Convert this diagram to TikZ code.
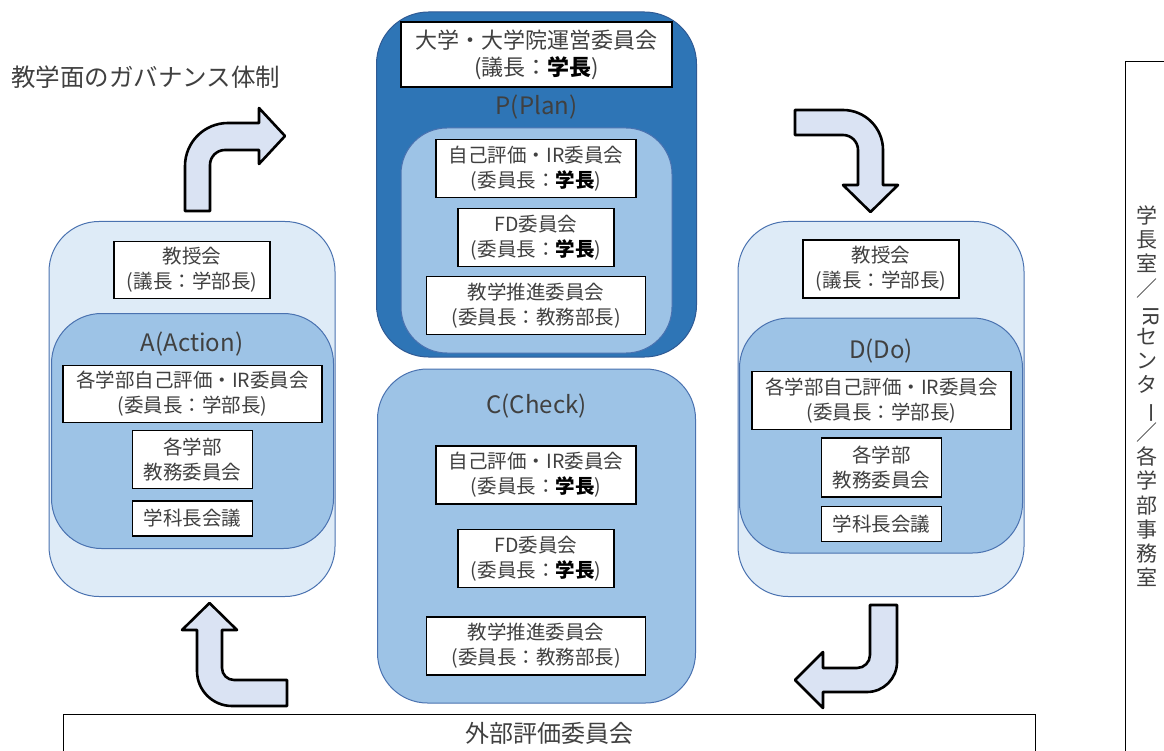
\documentclass[tikz,border=0pt]{standalone}
\usepackage{fontspec}
\setmainfont{Noto Sans CJK JP}
\definecolor{tgray}{HTML}{404040}
\definecolor{pdark}{HTML}{2E75B6}
\definecolor{pborder}{HTML}{2F5A94}
\definecolor{lblue}{HTML}{9DC3E6}
\definecolor{vlblue}{HTML}{DEEBF7}
\definecolor{bborder}{HTML}{4A72B0}
\definecolor{arrfill}{HTML}{DAE3F3}
\newcommand{\bk}[1]{\textbf{\color{black}#1}}
\tikzset{
  wbox/.style={draw=black, fill=white, line width=1.1pt, align=center, text=tgray,
    inner sep=0pt, font=\fontsize{19.5}{25}\selectfont},
  container/.style={draw=bborder, line width=1pt, inner sep=0pt},
  lbl/.style={text=tgray, inner sep=0pt, font=\fontsize{24}{28}\selectfont},
  blockarrow/.style={draw=black, fill=arrfill, line width=2.6pt, line join=round},
  vchar/.style={text=tgray, inner sep=0pt, font=\fontsize{21}{24}\selectfont,
    text height=0.88em, text depth=0.12em},
}
\begin{document}
\begin{tikzpicture}[x=1pt,y=-1pt]
\useasboundingbox (0,0) rectangle (1164,751);
\clip (0,0) rectangle (1164,751);

% title
\node[anchor=west, text=tgray, inner sep=0pt, font=\fontsize{24.5}{28}\selectfont] (title) at (11,77) {教学面のガバナンス体制};

% ---------- P ----------
\node[container, draw=pborder, fill=pdark, rounded corners=52pt, minimum width=320pt, minimum height=345pt] (Pout) at (536.5,184.5) {};
\node[wbox, minimum width=271pt, minimum height=65pt, font=\fontsize{22}{27}\selectfont] (Ptop) at (536.5,54.5) {大学・大学院運営委員会\\(議長：\bk{学長})};
\node[lbl] (Plbl) at (536.5,107) {P(Plan)};
\node[container, fill=lblue, rounded corners=46pt, minimum width=271pt, minimum height=225pt] (Pin) at (536.5,240.5) {};
\node[wbox, minimum width=200pt, minimum height=58pt] (P1) at (536,168.5) {自己評価・IR委員会\\(委員長：\bk{学長})};
\node[wbox, minimum width=156pt, minimum height=58pt] (P2) at (536,237.5) {FD委員会\\(委員長：\bk{学長})};
\node[wbox, minimum width=219pt, minimum height=58pt] (P3) at (536,305.5) {教学推進委員会\\(委員長：教務部長)};

% ---------- C ----------
\node[container, fill=lblue, rounded corners=50pt, minimum width=318pt, minimum height=334pt] (Cout) at (536.5,536) {};
\node[lbl] (Clbl) at (536.5,406) {C(Check)};
\node[wbox, minimum width=200pt, minimum height=58pt] (C1) at (536,475) {自己評価・IR委員会\\(委員長：\bk{学長})};
\node[wbox, minimum width=156pt, minimum height=58pt] (C2) at (536,558.5) {FD委員会\\(委員長：\bk{学長})};
\node[wbox, minimum width=219pt, minimum height=58pt] (C3) at (536,646) {教学推進委員会\\(委員長：教務部長)};

% ---------- A ----------
\node[container, fill=vlblue, rounded corners=50pt, minimum width=286pt, minimum height=375pt] (Aout) at (192,409) {};
\node[wbox, minimum width=156pt, minimum height=57pt] (A0) at (192,270) {教授会\\(議長：学部長)};
\node[container, fill=lblue, rounded corners=50pt, minimum width=282pt, minimum height=235pt] (Ain) at (192.5,431) {};
\node[lbl] (Albl) at (192,344.5) {A(Action)};
\node[wbox, minimum width=259pt, minimum height=57pt] (A1) at (192.5,394) {各学部自己評価・IR委員会\\(委員長：学部長)};
\node[wbox, minimum width=120pt, minimum height=58pt] (A2) at (192.5,459.5) {各学部\\教務委員会};
\node[wbox, minimum width=120pt, minimum height=35pt] (A3) at (192.5,518.5) {学科長会議};

% ---------- D ----------
\node[container, fill=vlblue, rounded corners=50pt, minimum width=286pt, minimum height=375pt] (Dout) at (881,409) {};
\node[wbox, minimum width=156pt, minimum height=58pt] (D0) at (881,269) {教授会\\(議長：学部長)};
\node[container, fill=lblue, rounded corners=50pt, minimum width=283pt, minimum height=235pt] (Din) at (881,435.5) {};
\node[lbl] (Dlbl) at (881,351) {D(Do)};
\node[wbox, minimum width=259pt, minimum height=58pt] (D1) at (881.5,400.5) {各学部自己評価・IR委員会\\(委員長：学部長)};
\node[wbox, minimum width=120pt, minimum height=59pt] (D2) at (881.5,467.5) {各学部\\教務委員会};
\node[wbox, minimum width=120pt, minimum height=35pt] (D3) at (881.5,524) {学科長会議};

% ---------- block arrows ----------
% A -> P (up, then right)
\filldraw[blockarrow] (185,211) -- (185,166) arc[start angle=180,end angle=270,radius=43]
  -- (259,123) -- (259,108) -- (285,136) -- (259,164) -- (259,150) -- (225,150)
  arc[start angle=270,end angle=180,radius=15] -- (210,211) -- cycle;
% P -> D (right, then down)
\filldraw[blockarrow] (795,110) -- (843,110) arc[start angle=270,end angle=360,radius=40]
  -- (883,185) -- (898,185) -- (870.5,212) -- (843,185) -- (858,185) -- (858,150)
  arc[start angle=0,end angle=-90,radius=15] -- (795,135) -- cycle;
% D -> C (down, then left)
\filldraw[blockarrow] (870,605) -- (897,605) -- (897,662) arc[start angle=0,end angle=90,radius=30]
  -- (823,692) -- (823,708) -- (795,680) -- (823,652) -- (823,668) -- (857,668)
  arc[start angle=90,end angle=0,radius=13] -- cycle;
% C -> A (left, then up)
\filldraw[blockarrow] (287,706) -- (232,706) arc[start angle=90,end angle=180,radius=35]
  -- (197,630) -- (182,630) -- (209.5,603) -- (237,630) -- (222,630) -- (222,668)
  arc[start angle=180,end angle=90,radius=12] -- (287,680) -- cycle;

% ---------- external evaluation ----------
\node[draw=black, line width=1pt, fill=white, minimum width=972pt, minimum height=60pt, anchor=north, inner sep=0pt] (ext) at (549,714) {};
\node[text=tgray, inner sep=0pt, font=\fontsize{24}{28}\selectfont] (exttext) at (549,733) {外部評価委員会};

% ---------- right panel ----------
\draw[black, line width=1pt] (1125,770) -- (1125,62) -- (1170,62);
\foreach \ch/\rot [count=\i from 0] in {学/0,長/0,室/0,／/0,IR/-90,セ/0,ン/0,タ/0,ー/-90,／/0,各/0,学/0,部/0,事/0,務/0,室/0}
  \node[vchar, rotate=\rot] (v\i) at (1147,{220+24.1*\i}) {\ch};
\end{tikzpicture}
\end{document}
